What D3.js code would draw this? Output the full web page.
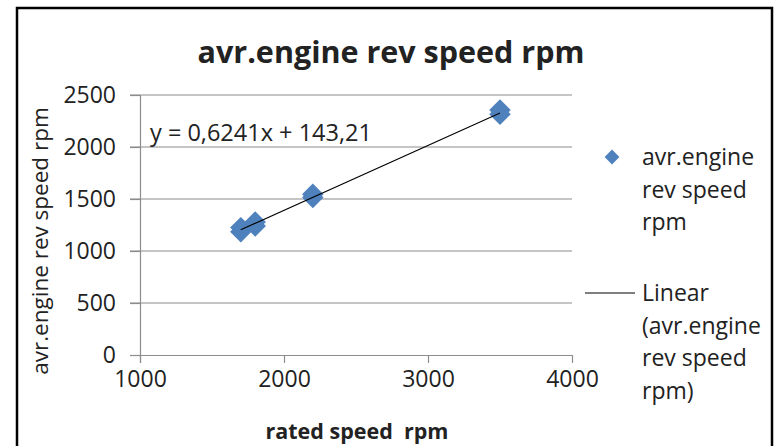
<!DOCTYPE html>
<html>
<head>
<meta charset="utf-8">
<script src="https://d3js.org/d3.v7.min.js"></script>
<style>
    body { margin: 0; background: #fff; }
    text { font-family: "Open Sans", Lato, sans-serif; fill: #222; }
</style>
</head>
<body>
<svg id="chart" width="775" height="446"></svg>
<script>
    // rated speed vs average engine rev speed
    var ratedSpeed = [1700, 1700, 1800, 1800, 2200, 2200, 3500, 3500];
    var avgRevSpeed = [1185, 1225, 1240, 1280, 1515, 1545, 2315, 2355];
    var xTicks = [1000, 2000, 3000, 4000];
    var yTicks = [0, 500, 1000, 1500, 2000, 2500];
    var slope = 0.6241, intercept = 143.21;

    var svg = d3.select("#chart");

    // chart frame
    svg.append("rect")
        .attr("x", 17).attr("y", 8)
        .attr("width", 755).attr("height", 460)
        .attr("fill", "#fff")
        .attr("stroke", "#000")
        .attr("stroke-width", 2.5);

    var x = d3.scaleLinear().domain([1000, 4000]).range([140, 572]);
    var y = d3.scaleLinear().domain([0, 2500]).range([355, 95]);

    // gridlines
    svg.append("g")
        .selectAll("line")
        .data(yTicks.slice(1))
        .enter().append("line")
        .attr("x1", 130).attr("x2", 572)
        .attr("y1", function (d) { return y(d); })
        .attr("y2", function (d) { return y(d); })
        .attr("stroke", "#8c8c8c")
        .attr("stroke-width", 1.2);

    var fmt = d3.format("d");
    var yAxis = svg.append("g")
        .attr("transform", "translate(140,0)")
        .call(d3.axisLeft(y).tickValues(yTicks).tickFormat(fmt).tickSize(10).tickPadding(14));
    var xAxis = svg.append("g")
        .attr("transform", "translate(0,355)")
        .call(d3.axisBottom(x).tickValues(xTicks).tickFormat(fmt).tickSize(8).tickPadding(8));

    [xAxis, yAxis].forEach(function (a) {
        a.select(".domain").attr("stroke", "#8c8c8c").attr("stroke-width", 1.2);
        a.selectAll(".tick line").attr("stroke", "#8c8c8c").attr("stroke-width", 1.2);
        a.selectAll(".tick text")
            .style("font-family", "'Open Sans', Lato, sans-serif")
            .style("font-size", "23px").attr("fill", "#333");
    });
    xAxis.select(".domain").attr("d", "M130,0.5H572");
    yAxis.select(".domain").attr("d", "M0.5,95V363");

    // excel style square diamond
    var squareDiamond = {
        draw: function (ctx, size) {
            var r = Math.sqrt(size / 2);
            ctx.moveTo(0, -r);
            ctx.lineTo(r, 0);
            ctx.lineTo(0, r);
            ctx.lineTo(-r, 0);
            ctx.closePath();
        }
    };

    // points
    svg.append("g")
        .selectAll("path")
        .data(ratedSpeed)
        .enter().append("path")
        .attr("d", d3.symbol().type(squareDiamond).size(230))
        .attr("transform", function (d, i) {
            return "translate(" + x(d) + "," + y(avgRevSpeed[i]) + ")";
        })
        .attr("fill", "#4f81bd");

    // linear trendline
    var xMin = d3.min(ratedSpeed), xMax = d3.max(ratedSpeed);
    svg.append("line")
        .attr("x1", x(xMin)).attr("y1", y(slope * xMin + intercept))
        .attr("x2", x(xMax)).attr("y2", y(slope * xMax + intercept))
        .attr("stroke", "#000")
        .attr("stroke-width", 1.1);

    svg.append("text")
        .attr("x", 150).attr("y", 141)
        .style("font-size", "23.5px")
        .text("y = 0,6241x + 143,21");

    // titles
    svg.append("text")
        .attr("x", 391).attr("y", 63)
        .attr("text-anchor", "middle")
        .style("font-size", "30.5px").style("font-weight", "bold")
        .attr("fill", "#000")
        .text("avr.engine rev speed rpm");

    svg.append("text")
        .attr("transform", "translate(48,241) rotate(-90)")
        .attr("text-anchor", "middle")
        .style("font-size", "22.5px")
        .text("avr.engine rev speed rpm");

    svg.append("text")
        .attr("x", 357).attr("y", 439)
        .attr("text-anchor", "middle")
        .style("font-size", "21.5px").style("font-weight", "bold")
        .text("rated speed\u00a0 rpm");

    // legend
    var legend = svg.append("g");
    legend.append("path")
        .attr("d", d3.symbol().type(squareDiamond).size(110))
        .attr("transform", "translate(612,157)")
        .attr("fill", "#4f81bd");
    legend.append("line")
        .attr("x1", 585).attr("x2", 635)
        .attr("y1", 293).attr("y2", 293)
        .attr("stroke", "#000").attr("stroke-width", 1.1);

    var legendLines = [
        ["avr.engine", "rev speed", "rpm"],
        ["Linear", "(avr.engine", "rev speed", "rpm)"]
    ];
    var legendTop = [157, 293];
    legendLines.forEach(function (lines, k) {
        legend.append("g").selectAll("text")
            .data(lines)
            .enter().append("text")
            .attr("x", 642)
            .attr("y", function (d, i) { return legendTop[k] + i * 32.5; })
            .attr("dy", "0.35em")
            .style("font-size", "23px")
            .text(function (d) { return d; });
    });
</script>
</body>
</html>
